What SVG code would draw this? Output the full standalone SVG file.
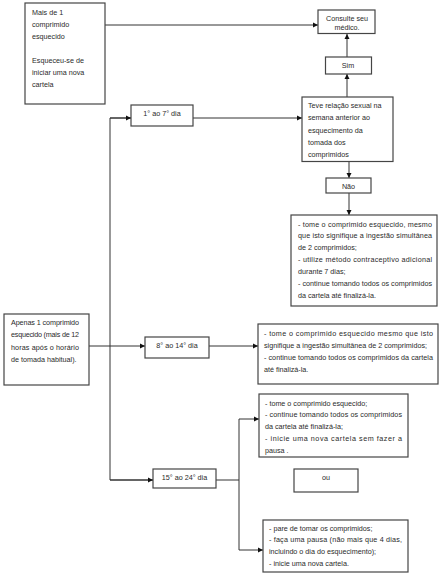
<svg xmlns="http://www.w3.org/2000/svg" width="447" height="579" viewBox="0 0 447 579">
<style>
.bg{fill:#ffffff}
.box{fill:#ffffff;stroke:#454545;stroke-width:1.2}
.t{font-family:"Liberation Sans",Arial,sans-serif;font-size:7.2px;fill:#2a2a2a}
.c{text-anchor:middle}
.ln{fill:none;stroke:#333333;stroke-width:1}
</style>
<defs>
<marker id="ah" markerUnits="userSpaceOnUse" markerWidth="6" markerHeight="6" refX="5" refY="3" orient="auto">
<path d="M0,0.5 L5,3 L0,5.5 z" fill="#111111"/>
</marker>
</defs>
<rect class="bg" x="0" y="0" width="447" height="579"/>

<g id="connectors">
<line class="ln" x1="105" y1="25" x2="318" y2="25" marker-end="url(#ah)"/>
<line class="ln" x1="347" y1="57" x2="347" y2="34" marker-end="url(#ah)"/>
<line class="ln" x1="347" y1="97" x2="347" y2="74" marker-end="url(#ah)"/>
<line class="ln" x1="193" y1="118" x2="302" y2="118" marker-end="url(#ah)"/>
<line class="ln" x1="349" y1="162" x2="349" y2="178" marker-end="url(#ah)"/>
<line class="ln" x1="349" y1="193" x2="349" y2="215" marker-end="url(#ah)"/>
<path class="ln" d="M131,118 H110 V480 H153" />
<line class="ln" x1="110" y1="118" x2="131" y2="118" marker-end="url(#ah)"/>
<line class="ln" x1="110" y1="480" x2="153" y2="480" marker-end="url(#ah)"/>
<line class="ln" x1="89" y1="346" x2="145" y2="346" marker-end="url(#ah)"/>
<line class="ln" x1="209" y1="346" x2="258" y2="346" marker-end="url(#ah)"/>
<path class="ln" d="M216,480 H239 M239,419 V550"/>
<line class="ln" x1="239" y1="419" x2="259" y2="419" marker-end="url(#ah)"/>
<line class="ln" x1="239" y1="550" x2="263" y2="550" marker-end="url(#ah)"/>
</g>

<g id="n-mais">
<rect class="box" x="25" y="3" width="80" height="101"/>
<text class="t" x="32" y="14.5">Mais de 1</text>
<text class="t" x="32" y="26.5">comprimido</text>
<text class="t" x="32" y="38.5">esquecido</text>
<text class="t" x="32" y="62.5">Esqueceu-se de</text>
<text class="t" x="32" y="74.5">iniciar uma nova</text>
<text class="t" x="32" y="87">cartela</text>
</g>

<g id="n-consulte">
<rect class="box" x="318" y="10" width="57" height="23.5"/>
<text class="t c" x="347" y="20.5">Consulte seu</text>
<text class="t c" x="347" y="29.5">médico.</text>
</g>

<g id="n-sim">
<rect class="box" x="325.5" y="57" width="46" height="17"/>
<text class="t c" x="348" y="68">Sim</text>
</g>

<g id="n-teve">
<rect class="box" x="302" y="97" width="91" height="64.5"/>
<text class="t" x="308" y="107.5">Teve relação sexual na</text>
<text class="t" x="308" y="120">semana anterior ao</text>
<text class="t" x="308" y="132.5">esquecimento da</text>
<text class="t" x="308" y="145">tomada dos</text>
<text class="t" x="308" y="157">comprimidos</text>
</g>

<g id="n-d1">
<rect class="box" x="131" y="105" width="62" height="21"/>
<text class="t c" x="162" y="115.5">1° ao 7° dia</text>
</g>

<g id="n-nao">
<rect class="box" x="326" y="178" width="45" height="15"/>
<text class="t c" x="348.5" y="188.5">Não</text>
</g>

<g id="n-r1">
<rect class="box" x="291" y="215" width="146" height="91"/>
<text class="t" x="298" y="226.5" textLength="134" lengthAdjust="spacing">- tome o comprimido esquecido, mesmo</text>
<text class="t" x="298" y="238.3" textLength="134" lengthAdjust="spacing">que isto signifique a ingestão simultânea</text>
<text class="t" x="298" y="250.1">de 2 comprimidos;</text>
<text class="t" x="298" y="261.9" textLength="134" lengthAdjust="spacing">- utilize método contraceptivo adicional</text>
<text class="t" x="298" y="273.7">durante 7 dias;</text>
<text class="t" x="298" y="285.5" textLength="134" lengthAdjust="spacing">- continue tomando todos os comprimidos</text>
<text class="t" x="298" y="297.5">da cartela até finalizá-la.</text>
</g>

<g id="n-apenas">
<rect class="box" x="4" y="314" width="85" height="71"/>
<text class="t" x="11" y="324.5" textLength="68" lengthAdjust="spacing">Apenas 1 comprimido</text>
<text class="t" x="11" y="337" textLength="68" lengthAdjust="spacing">esquecido (mais de 12</text>
<text class="t" x="11" y="349.5" textLength="68" lengthAdjust="spacing">horas após o horário</text>
<text class="t" x="11" y="361.5">de tomada habitual).</text>
</g>

<g id="n-d8">
<rect class="box" x="145" y="337" width="64" height="21"/>
<text class="t c" x="177" y="347.5">8° ao 14° dia</text>
</g>

<g id="n-r2">
<rect class="box" x="258" y="324" width="180" height="60"/>
<text class="t" x="264" y="335.5" textLength="169" lengthAdjust="spacing">- tome o comprimido esquecido mesmo que isto</text>
<text class="t" x="264" y="347.5">signifique a ingestão simultânea de 2 comprimidos;</text>
<text class="t" x="264" y="359.5" textLength="169" lengthAdjust="spacing">- continue tomando todos os comprimidos da cartela</text>
<text class="t" x="264" y="371.5">até finalizá-la.</text>
</g>

<g id="n-r3">
<rect class="box" x="259" y="394" width="149" height="63"/>
<text class="t" x="265" y="405.5">- tome o comprimido esquecido;</text>
<text class="t" x="265" y="417.3" textLength="137" lengthAdjust="spacing">- continue tomando todos os comprimidos</text>
<text class="t" x="265" y="429.1">da cartela até finalizá-la;</text>
<text class="t" x="265" y="440.9" textLength="137" lengthAdjust="spacing">- inicie uma nova cartela sem fazer a</text>
<text class="t" x="265" y="453">pausa .</text>
</g>

<g id="n-d15">
<rect class="box" x="153" y="469" width="63" height="19"/>
<text class="t c" x="184.5" y="479.5">15° ao 24° dia</text>
</g>

<g id="n-ou">
<rect class="box" x="294" y="469" width="64" height="23"/>
<text class="t c" x="326" y="479.5">ou</text>
</g>

<g id="n-r4">
<rect class="box" x="263" y="520" width="145" height="52"/>
<text class="t" x="269" y="530.5">- pare de tomar os comprimidos;</text>
<text class="t" x="269" y="542.2" textLength="133" lengthAdjust="spacing">- faça uma pausa (não mais que 4 dias,</text>
<text class="t" x="269" y="553.9">incluindo o dia do esquecimento);</text>
<text class="t" x="269" y="565.5">- inicie uma nova cartela.</text>
</g>
</svg>
